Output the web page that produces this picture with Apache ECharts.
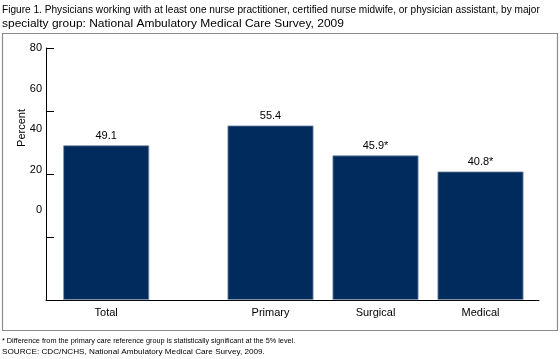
<!DOCTYPE html>
<html>
<head>
<meta charset="utf-8">
<script src="https://cdn.jsdelivr.net/npm/echarts@6/dist/echarts.min.js"></script>
<style>html,body{margin:0;padding:0;background:#fff;}#c{width:560px;height:359px;}</style>
</head>
<body>
<div id="c"></div>
<script>
var titleLines = ['Figure 1. Physicians working with at least one nurse practitioner, certified nurse midwife, or physician assistant, by major', 'specialty group: National Ambulatory Medical Care Survey, 2009'];
var footLines = ['* Difference from the primary care reference group is statistically significant at the 5% level.', 'SOURCE: CDC/NCHS, National Ambulatory Medical Care Survey, 2009.'];
var totalCategory = ['Total'];
var totalValues = [49.1];
var totalLabels = ['49.1'];
var groupCategories = ['Primary', 'Surgical', 'Medical'];
var groupValues = [55.4, 45.9, 40.8];
var groupLabels = ['55.4', '45.9*', '40.8*'];
var yTickLabels = [0, 20, 40, 60, 80];
var yAxisName = 'Percent';

var FONT = '"Liberation Sans", Arial, sans-serif';
var BAR = '#002b5c';
var chart = echarts.init(document.getElementById('c'), null, {renderer: 'canvas'});

function barSeries(xi, yi, vals, labs) {
  return {
    type: 'bar', xAxisIndex: xi, yAxisIndex: yi, barWidth: 86,
    data: vals.map(function (v, i) { return {value: v, label: {formatter: labs[i]}}; }),
    itemStyle: {color: BAR, borderColor: '#7f93ad', borderWidth: 0.8},
    label: {show: true, position: 'top', distance: 4, color: '#000', fontFamily: FONT, fontSize: 11},
    silent: true, animation: false
  };
}

function textLine(str, x, y, size, sx) {
  return {type: 'text', x: x, y: y, scaleX: sx, originX: 0, originY: 0,
    style: {text: str, font: size + 'px ' + FONT, fill: '#000', verticalAlign: 'middle'}, silent: true};
}

chart.setOption({
  animation: false,
  graphic: [
    {type: 'rect', shape: {x: 2.5, y: 33.5, width: 555, height: 297}, style: {fill: 'none', stroke: '#8c8c8c', lineWidth: 1.2}, silent: true},
    textLine(titleLines[0], 2, 10, 11.3, 0.895),
    textLine(titleLines[1], 2, 24, 11.3, 1.06),
    textLine(footLines[0], 2, 341, 8, 0.91),
    textLine(footLines[1], 2, 352, 8, 1.02),
    {type: 'text', x: 22, y: 128, rotation: Math.PI / 2, style: {text: yAxisName, font: '11px ' + FONT, fill: '#000', align: 'center', verticalAlign: 'middle'}}
  ],
  grid: [
    {left: 46, top: 48, width: 493, height: 252},
    {left: 53.7, top: 48, width: 105, height: 252},
    {left: 218, top: 48, width: 315, height: 252}
  ],
  xAxis: [
    {gridIndex: 0, type: 'category', data: [''], axisLine: {lineStyle: {color: '#000', width: 1}}, axisTick: {show: false}, axisLabel: {show: false}},
    {gridIndex: 1, type: 'category', data: totalCategory, axisLine: {show: false}, axisTick: {show: false},
      axisLabel: {color: '#000', fontFamily: FONT, fontSize: 11, margin: 7}},
    {gridIndex: 2, type: 'category', data: groupCategories, axisLine: {show: false}, axisTick: {show: false},
      axisLabel: {color: '#000', fontFamily: FONT, fontSize: 11, margin: 7}}
  ],
  yAxis: [
    {gridIndex: 0, type: 'value', position: 'left', min: 0, max: 80, interval: 20,
      axisLine: {show: true, lineStyle: {color: '#000', width: 1}},
      axisTick: {show: true, inside: true, length: 8, customValues: yTickLabels, lineStyle: {color: '#000', width: 1}},
      axisLabel: {show: false}, splitLine: {show: false}},
    {gridIndex: 0, type: 'value', position: 'left', offset: 0, min: -44.4, max: 80,
      axisLine: {show: false}, axisTick: {show: false}, splitLine: {show: false},
      axisLabel: {show: true, customValues: yTickLabels, color: '#000', fontFamily: FONT, fontSize: 11, margin: 4}},
    {gridIndex: 1, type: 'value', min: 0, max: 80, show: false},
    {gridIndex: 2, type: 'value', min: 0, max: 80, show: false}
  ],
  series: [
    barSeries(1, 2, totalValues, totalLabels),
    barSeries(2, 3, groupValues, groupLabels)
  ]
});
</script>
</body>
</html>
